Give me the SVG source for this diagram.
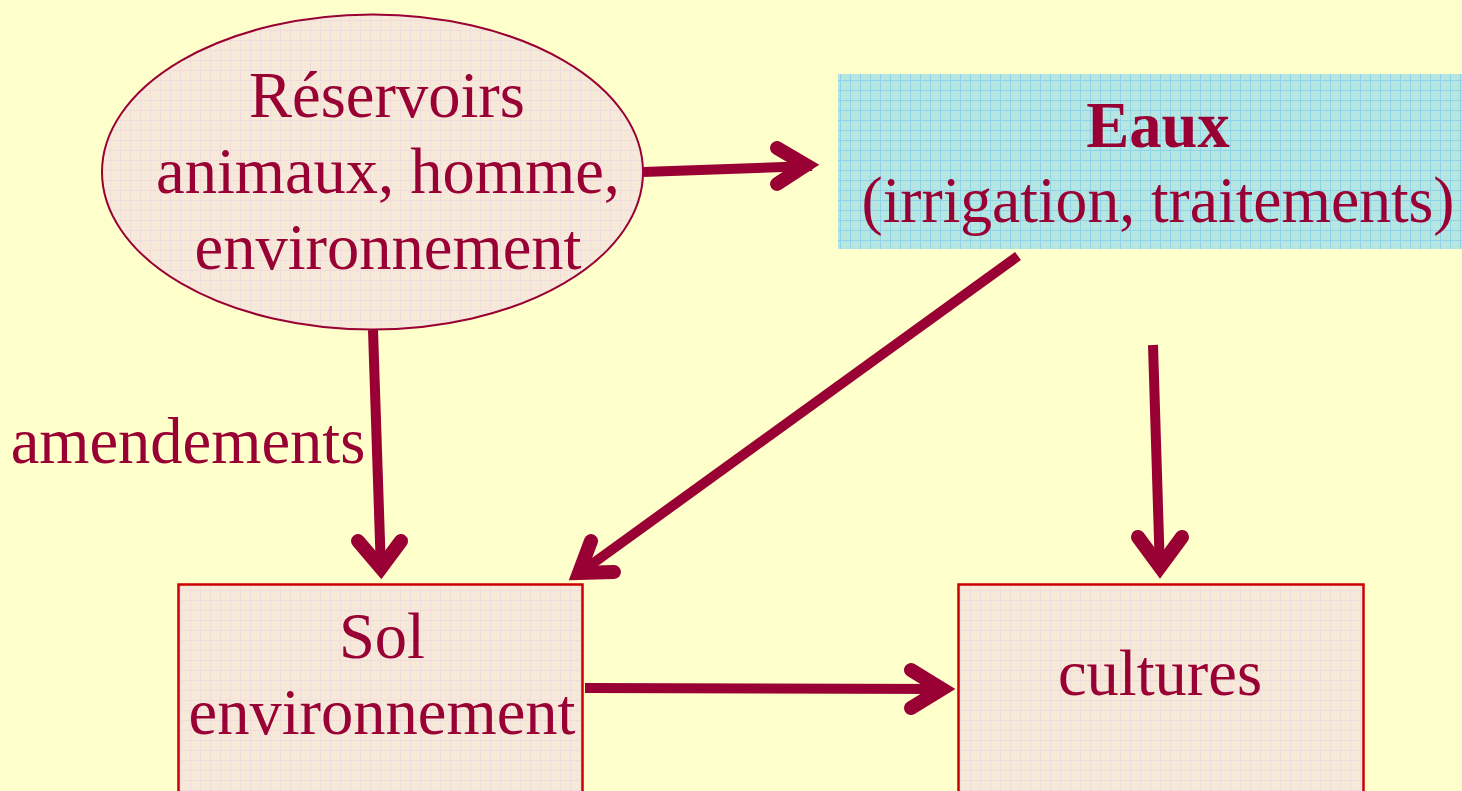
<svg xmlns="http://www.w3.org/2000/svg" width="1462" height="791" viewBox="0 0 1462 791">
<style>
.t{font-family:"Liberation Serif","Times New Roman",serif;font-size:64.5px;fill:#990033;text-anchor:middle}
.b{font-weight:bold}
.shaft{stroke:#990033;stroke-width:10;fill:none;stroke-linecap:butt}
.head{stroke:#990033;stroke-width:14;fill:none;stroke-linecap:round;stroke-linejoin:miter;stroke-miterlimit:6}
.box{stroke:#cc0000;stroke-width:2.5}
</style>
<defs>
<pattern id="gp" width="10" height="10" patternUnits="userSpaceOnUse">
<rect width="10" height="10" fill="#f6e9d7"/>
<path d="M0 0.5H10M0.5 0V10" stroke="#f0dcdc" stroke-width="1"/>
</pattern>
<pattern id="gb" width="10" height="10" patternUnits="userSpaceOnUse">
<rect width="10" height="10" fill="#b6e6e0"/>
<path d="M0 0.5H10M0.5 0V10" stroke="#8fd2ec" stroke-width="1"/>
</pattern>
</defs>
<rect width="1462" height="791" fill="#ffffcc"/>
<g id="reservoirs">
<ellipse cx="372.5" cy="172" rx="270.5" ry="157.5" fill="url(#gp)" stroke="#990033" stroke-width="2"/>
<text class="t" x="387" y="117">Réservoirs</text>
<text class="t" x="388" y="193">animaux, homme,</text>
<text class="t" x="388" y="269">environnement</text>
</g>
<g id="eaux">
<rect x="838" y="74" width="626" height="175" fill="url(#gb)"/>
<text class="t b" x="1158" y="147">Eaux</text>
<text class="t" x="1158" y="222" textLength="593" lengthAdjust="spacingAndGlyphs">(irrigation, traitements)</text>
</g>
<g id="sol">
<rect class="box" x="178.5" y="584.5" width="404" height="220" fill="url(#gp)"/>
<text class="t" x="382" y="658">Sol</text>
<text class="t" x="382" y="734">environnement</text>
</g>
<g id="cultures">
<rect class="box" x="958.5" y="584.5" width="405" height="220" fill="url(#gp)"/>
<text class="t" x="1160" y="695">cultures</text>
</g>
<g id="label-amendements">
<text class="t" x="188" y="463">amendements</text>
</g>
<g id="connectors">
<line class="shaft" x1="643" y1="172" x2="812" y2="166"/>
<polyline class="head" points="777,148 806,165 777,184"/>
<line class="shaft" x1="373" y1="330" x2="381" y2="572"/>
<polyline class="head" points="358,541 381,568 401,541"/>
<line class="shaft" x1="1018" y1="256" x2="581" y2="572"/>
<polyline class="head" points="591,541 579,573 614,572"/>
<line class="shaft" x1="1153" y1="345" x2="1160" y2="572"/>
<polyline class="head" points="1138,537 1160,567 1182,537"/>
<line class="shaft" x1="585" y1="688" x2="944" y2="689"/>
<polyline class="head" points="911,670 942,689 911,708"/>
</g>
</svg>
